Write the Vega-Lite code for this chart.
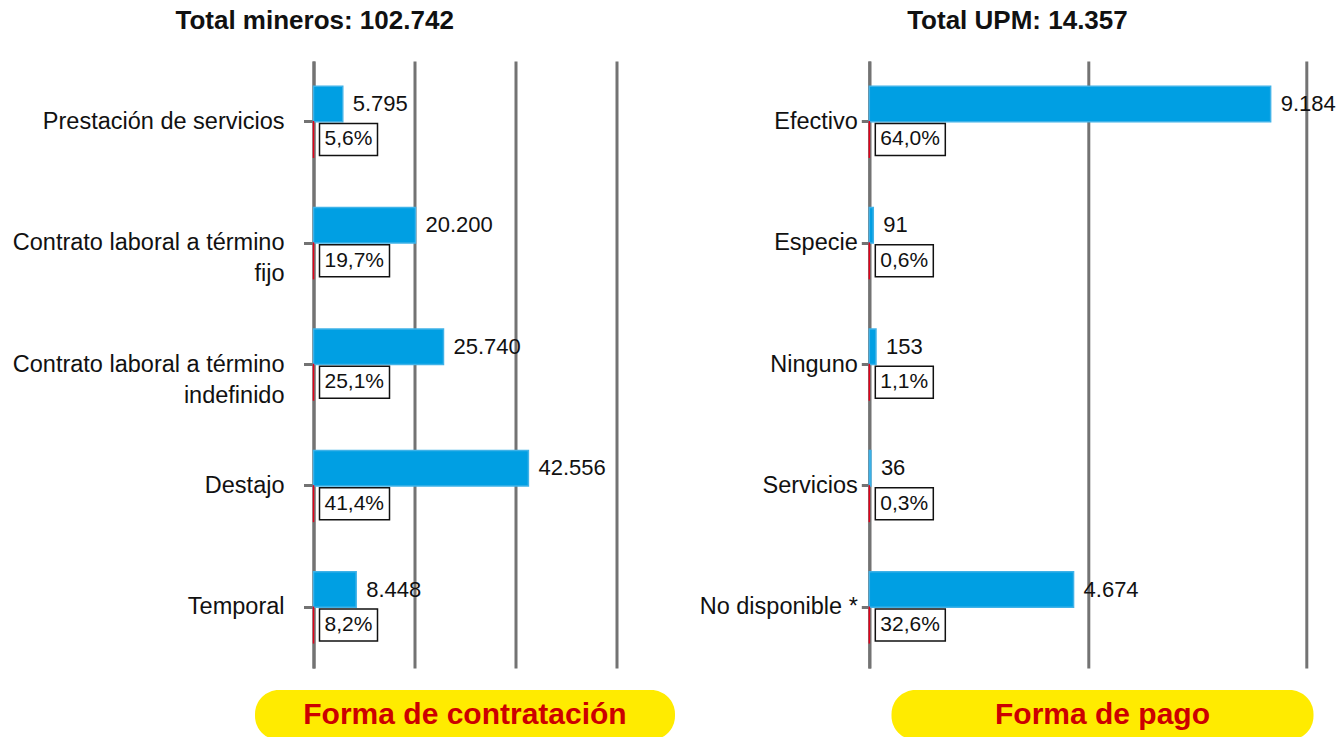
{
  "$schema": "https://vega.github.io/schema/vega-lite/v6.json",
  "padding": {"left": 12, "top": 8, "right": 0, "bottom": 0},
  "background": "white",
  "config": {
    "font": "Liberation Sans",
    "view": {"stroke": null},
    "title": {"fontSize": 26, "fontWeight": "bold", "color": "#111111", "anchor": "middle", "offset": 27, "frame": "bounds"}
  },
  "spacing": 24,
  "hconcat": [
    {
      "vconcat": [
        {
          "title": {"text": "Total mineros: 102.742"},
          "width": 303,
          "height": 607,
          "data": {"values": [
            {"cat": "Prestación de servicios", "s": "n", "v": 5795, "lab": "Prestación de servicios"},
            {"cat": "Prestación de servicios", "s": "p", "v": 0.056},
            {"cat": "Contrato laboral a término fijo", "s": "n", "v": 20200, "lab": ["Contrato laboral a término", "fijo"]},
            {"cat": "Contrato laboral a término fijo", "s": "p", "v": 0.197},
            {"cat": "Contrato laboral a término indefinido", "s": "n", "v": 25740, "lab": ["Contrato laboral a término", "indefinido"]},
            {"cat": "Contrato laboral a término indefinido", "s": "p", "v": 0.251},
            {"cat": "Destajo", "s": "n", "v": 42556, "lab": "Destajo"},
            {"cat": "Destajo", "s": "p", "v": 0.414},
            {"cat": "Temporal", "s": "n", "v": 8448, "lab": "Temporal"},
            {"cat": "Temporal", "s": "p", "v": 0.082}
          ]},
          "encoding": {
            "y": {
              "field": "cat", "type": "nominal", "sort": null,
              "scale": {"paddingInner": 0, "paddingOuter": 0},
              "axis": {
                "title": null, "labels": false,
                "tickSize": 10, "tickWidth": 3, "tickColor": "#737373", "domainColor": "#737373", "domainWidth": 3
              }
            }
          },
          "layer": [
            {
              "mark": {"type": "bar", "strokeWidth": 1.5},
              "encoding": {
                "x": {"field": "v", "type": "quantitative", "scale": {"domain": [0, 60000], "nice": false},
                  "axis": {"title": null, "values": [0, 20000, 40000, 60000], "grid": true, "gridColor": "#737373", "gridWidth": 3, "labels": false, "ticks": false, "domain": false}},
                "yOffset": {"field": "s", "type": "nominal", "scale": {"domain": ["n", "p"], "paddingInner": 0, "paddingOuter": 0.71}},
                "color": {"field": "s", "type": "nominal", "scale": {"domain": ["n", "p"], "range": ["#009FE3", "#E2001A"]}, "legend": null},
                "stroke": {"field": "s", "type": "nominal", "scale": {"domain": ["n", "p"], "range": ["#3FB2E8", "#E2001A"]}, "legend": null}
              }
            },
            {
              "transform": [{"filter": "datum.s == 'p' && datum.v < 0.1"}],
              "mark": {"type": "point", "shape": "M0.375,-1H4V1H0.375Z", "size": 1024, "filled": true, "fill": "white", "stroke": "#111111", "strokeWidth": 1.5, "opacity": 1},
              "encoding": {
                "x": {"datum": 0, "type": "quantitative"},
                "yOffset": {"field": "s", "type": "nominal", "scale": {"domain": ["n", "p"], "paddingInner": 0, "paddingOuter": 0.71}}
              }
            },
            {
              "transform": [{"filter": "datum.s == 'p' && datum.v >= 0.1"}],
              "mark": {"type": "point", "shape": "M0.375,-1H4.75V1H0.375Z", "size": 1024, "filled": true, "fill": "white", "stroke": "#111111", "strokeWidth": 1.5, "opacity": 1},
              "encoding": {
                "x": {"datum": 0, "type": "quantitative"},
                "yOffset": {"field": "s", "type": "nominal", "scale": {"domain": ["n", "p"], "paddingInner": 0, "paddingOuter": 0.71}}
              }
            },
            {
              "transform": [{"filter": "datum.s == 'p'"}],
              "mark": {"type": "text", "align": "left", "baseline": "middle", "dx": 11, "fontSize": 21, "color": "#111111",
                "text": {"expr": "replace(format(datum.v, '.1%'), '.', ',')"}},
              "encoding": {
                "x": {"datum": 0, "type": "quantitative"},
                "yOffset": {"field": "s", "type": "nominal", "scale": {"domain": ["n", "p"], "paddingInner": 0, "paddingOuter": 0.71}}
              }
            },
            {
              "transform": [{"filter": "datum.s == 'n'"}],
              "mark": {"type": "text", "align": "left", "baseline": "middle", "dx": 10, "fontSize": 22, "color": "#111111",
                "text": {"expr": "replace(format(datum.v, ',d'), ',', '.')"}},
              "encoding": {
                "x": {"field": "v", "type": "quantitative"},
                "yOffset": {"field": "s", "type": "nominal", "scale": {"domain": ["n", "p"], "paddingInner": 0, "paddingOuter": 0.71}}
              }
            },
            {
              "transform": [{"filter": "datum.s == 'n'"}],
              "mark": {"type": "text", "align": "right", "baseline": "middle", "dx": -29, "fontSize": 23.5, "lineHeight": 31, "color": "#111111"},
              "encoding": {
                "x": {"datum": 0, "type": "quantitative"},
                "text": {"field": "lab", "type": "nominal"}
              }
            }
          ]
        },
        {
          "width": 420,
          "height": 50,
          "data": {"values": [{"label": "Forma de contratación"}]},
          "layer": [
            {"mark": {"type": "rect", "fill": "#FFEB00", "cornerRadius": 24}, "encoding": {}},
            {"mark": {"type": "text", "fontSize": 30, "fontWeight": "bold", "color": "#CC0000", "baseline": "middle", "align": "center"},
              "encoding": {"text": {"field": "label", "type": "nominal"}}}
          ]
        }
      ],
      "spacing": 22,
      "center": true
    },
    {
      "vconcat": [
        {
          "title": {"text": "Total UPM: 14.357"},
          "width": 437,
          "height": 607,
          "data": {"values": [
            {"cat": "Efectivo", "s": "n", "v": 9184},
            {"cat": "Efectivo", "s": "p", "v": 0.640},
            {"cat": "Especie", "s": "n", "v": 91},
            {"cat": "Especie", "s": "p", "v": 0.006},
            {"cat": "Ninguno", "s": "n", "v": 153},
            {"cat": "Ninguno", "s": "p", "v": 0.011},
            {"cat": "Servicios", "s": "n", "v": 36},
            {"cat": "Servicios", "s": "p", "v": 0.003},
            {"cat": "No disponible *", "s": "n", "v": 4674},
            {"cat": "No disponible *", "s": "p", "v": 0.326}
          ]},
          "encoding": {
            "y": {
              "field": "cat", "type": "nominal", "sort": null,
              "scale": {"paddingInner": 0, "paddingOuter": 0},
              "axis": {
                "title": null, "labelFontSize": 23.5, "labelColor": "#111111", "labelPadding": 4,
                "tickSize": 8, "tickWidth": 3, "tickColor": "#737373", "domainColor": "#737373", "domainWidth": 3, "labelLimit": 400
              }
            },
            "yOffset": {"field": "s", "type": "nominal", "scale": {"domain": ["n", "p"], "paddingInner": 0, "paddingOuter": 0.71}}
          },
          "layer": [
            {
              "mark": {"type": "bar", "strokeWidth": 1.5},
              "encoding": {
                "x": {"field": "v", "type": "quantitative", "scale": {"domain": [0, 10000], "nice": false},
                  "axis": {"title": null, "values": [0, 5000, 10000], "grid": true, "gridColor": "#737373", "gridWidth": 3, "labels": false, "ticks": false, "domain": false}},
                "color": {"field": "s", "type": "nominal", "scale": {"domain": ["n", "p"], "range": ["#009FE3", "#E2001A"]}, "legend": null},
                "stroke": {"field": "s", "type": "nominal", "scale": {"domain": ["n", "p"], "range": ["#3FB2E8", "#E2001A"]}, "legend": null}
              }
            },
            {
              "transform": [{"filter": "datum.s == 'p' && datum.v < 0.1"}],
              "mark": {"type": "point", "shape": "M0.375,-1H4V1H0.375Z", "size": 1024, "filled": true, "fill": "white", "stroke": "#111111", "strokeWidth": 1.5, "opacity": 1},
              "encoding": {"x": {"datum": 0, "type": "quantitative"}}
            },
            {
              "transform": [{"filter": "datum.s == 'p' && datum.v >= 0.1"}],
              "mark": {"type": "point", "shape": "M0.375,-1H4.75V1H0.375Z", "size": 1024, "filled": true, "fill": "white", "stroke": "#111111", "strokeWidth": 1.5, "opacity": 1},
              "encoding": {"x": {"datum": 0, "type": "quantitative"}}
            },
            {
              "transform": [{"filter": "datum.s == 'p'"}],
              "mark": {"type": "text", "align": "left", "baseline": "middle", "dx": 11, "fontSize": 21, "color": "#111111",
                "text": {"expr": "replace(format(datum.v, '.1%'), '.', ',')"}},
              "encoding": {
                "x": {"datum": 0, "type": "quantitative"}
              }
            },
            {
              "transform": [{"filter": "datum.s == 'n'"}],
              "mark": {"type": "text", "align": "left", "baseline": "middle", "dx": 10, "fontSize": 22, "color": "#111111",
                "text": {"expr": "replace(format(datum.v, ',d'), ',', '.')"}},
              "encoding": {
                "x": {"field": "v", "type": "quantitative"}
              }
            }
          ]
        },
        {
          "width": 422,
          "height": 50,
          "data": {"values": [{"label": "Forma de pago"}]},
          "layer": [
            {"mark": {"type": "rect", "fill": "#FFEB00", "cornerRadius": 24}, "encoding": {}},
            {"mark": {"type": "text", "fontSize": 30, "fontWeight": "bold", "color": "#CC0000", "baseline": "middle", "align": "center"},
              "encoding": {"text": {"field": "label", "type": "nominal"}}}
          ]
        }
      ],
      "spacing": 22,
      "center": true
    }
  ]
}
